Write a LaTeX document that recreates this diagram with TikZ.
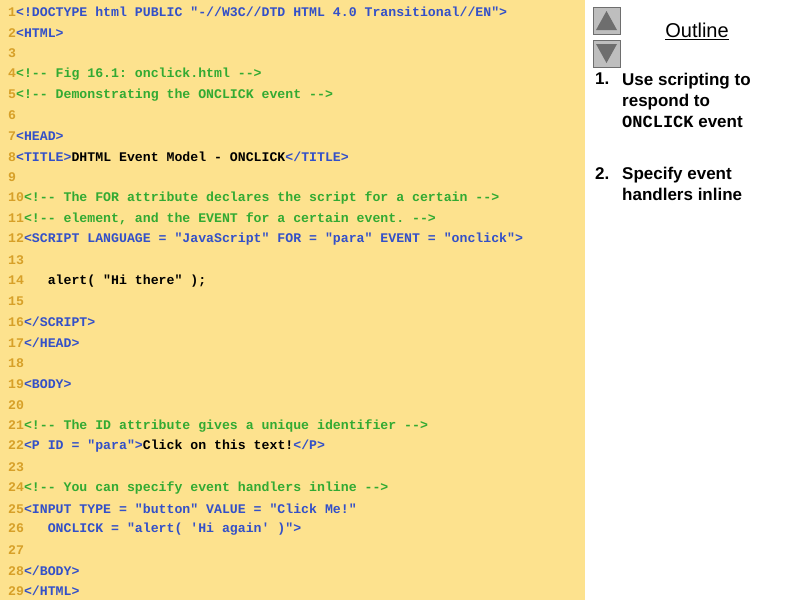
\documentclass[tikz,border=0pt]{standalone}
\usepackage{fontspec}
\setmainfont{Liberation Sans}
\setmonofont{Liberation Mono}
\definecolor{panel}{RGB}{253,226,142}
\definecolor{tagc}{RGB}{51,80,200}
\definecolor{comc}{RGB}{50,170,50}
\definecolor{numc}{RGB}{215,160,40}
\definecolor{btn}{RGB}{190,190,190}
\definecolor{tri}{RGB}{110,110,110}
\newcommand{\T}[1]{\textcolor{tagc}{#1}}
\newcommand{\C}[1]{\textcolor{comc}{#1}}
\newcommand{\K}[1]{\textcolor{black}{#1}}
\tikzset{codeline/.style={anchor=west,inner sep=0pt,font=\fontsize{13.2}{14}\ttfamily\bfseries},
 btnbox/.style={draw=tri,fill=btn,line width=0.8pt},
 item/.style={anchor=north west,inner sep=0pt,font=\fontsize{17}{21}\selectfont\bfseries,align=left}}
\newcommand{\cl}[2]{\node[codeline] (l#1) at (8pt,{-12pt-(#1-1)*20.68pt}) {\textcolor{numc}{#1}#2};}
\begin{document}
\begin{tikzpicture}[x=1pt,y=1pt]
\useasboundingbox (0,0) rectangle (800,-600);
\fill[panel] (0,0) rectangle (585,-600);
\cl{1}{\T{<!DOCTYPE html PUBLIC "-//W3C//DTD HTML 4.0 Transitional//EN">}}
\cl{2}{\T{<HTML>}}
\cl{3}{}
\cl{4}{\C{<!-- Fig 16.1: onclick.html          -->}}
\cl{5}{\C{<!-- Demonstrating the ONCLICK event -->}}
\cl{6}{}
\cl{7}{\T{<HEAD>}}
\cl{8}{\T{<TITLE>}\K{DHTML Event Model - ONCLICK}\T{</TITLE>}}
\cl{9}{}
\cl{10}{\C{<!-- The FOR attribute declares the script for a certain -->}}
\cl{11}{\C{<!-- element, and the EVENT for a certain event.         -->}}
\cl{12}{\T{<SCRIPT LANGUAGE = "JavaScript" FOR = "para" EVENT = "onclick">}}
\cl{13}{}
\cl{14}{\K{\ \ \ alert( "Hi there" );}}
\cl{15}{}
\cl{16}{\T{</SCRIPT>}}
\cl{17}{\T{</HEAD>}}
\cl{18}{}
\cl{19}{\T{<BODY>}}
\cl{20}{}
\cl{21}{\C{<!-- The ID attribute gives a unique identifier -->}}
\cl{22}{\T{<P ID = "para">}\K{Click on this text!}\T{</P>}}
\cl{23}{}
\cl{24}{\C{<!-- You can specify event handlers inline -->}}
\cl{25}{\T{<INPUT TYPE = "button" VALUE = "Click Me!"}}
\cl{26}{\T{\ \ \ ONCLICK = "alert( 'Hi again' )">}}
\cl{27}{}
\cl{28}{\T{</BODY>}}
\cl{29}{\T{</HTML>}}
% buttons
\draw[btnbox] (593,-7) rectangle (620,-34);
\fill[tri] (606.5,-11) -- (617,-30) -- (596,-30) -- cycle;
\draw[btnbox] (593,-40) rectangle (620,-67);
\fill[tri] (596,-44) -- (617,-44) -- (606.5,-63) -- cycle;
\node[font=\fontsize{20}{24}\selectfont] (outline) at (697,-31) {\underline{Outline}};
\node[item] (n1) at (595,-73) {1.};
\node[item] (i1) at (622,-73) {Use scripting to\\respond to\\{\ttfamily ONCLICK} event};
\node[item] (n2) at (595,-167) {2.};
\node[item] (i2) at (622,-167) {Specify event\\handlers inline};
\end{tikzpicture}
\end{document}
